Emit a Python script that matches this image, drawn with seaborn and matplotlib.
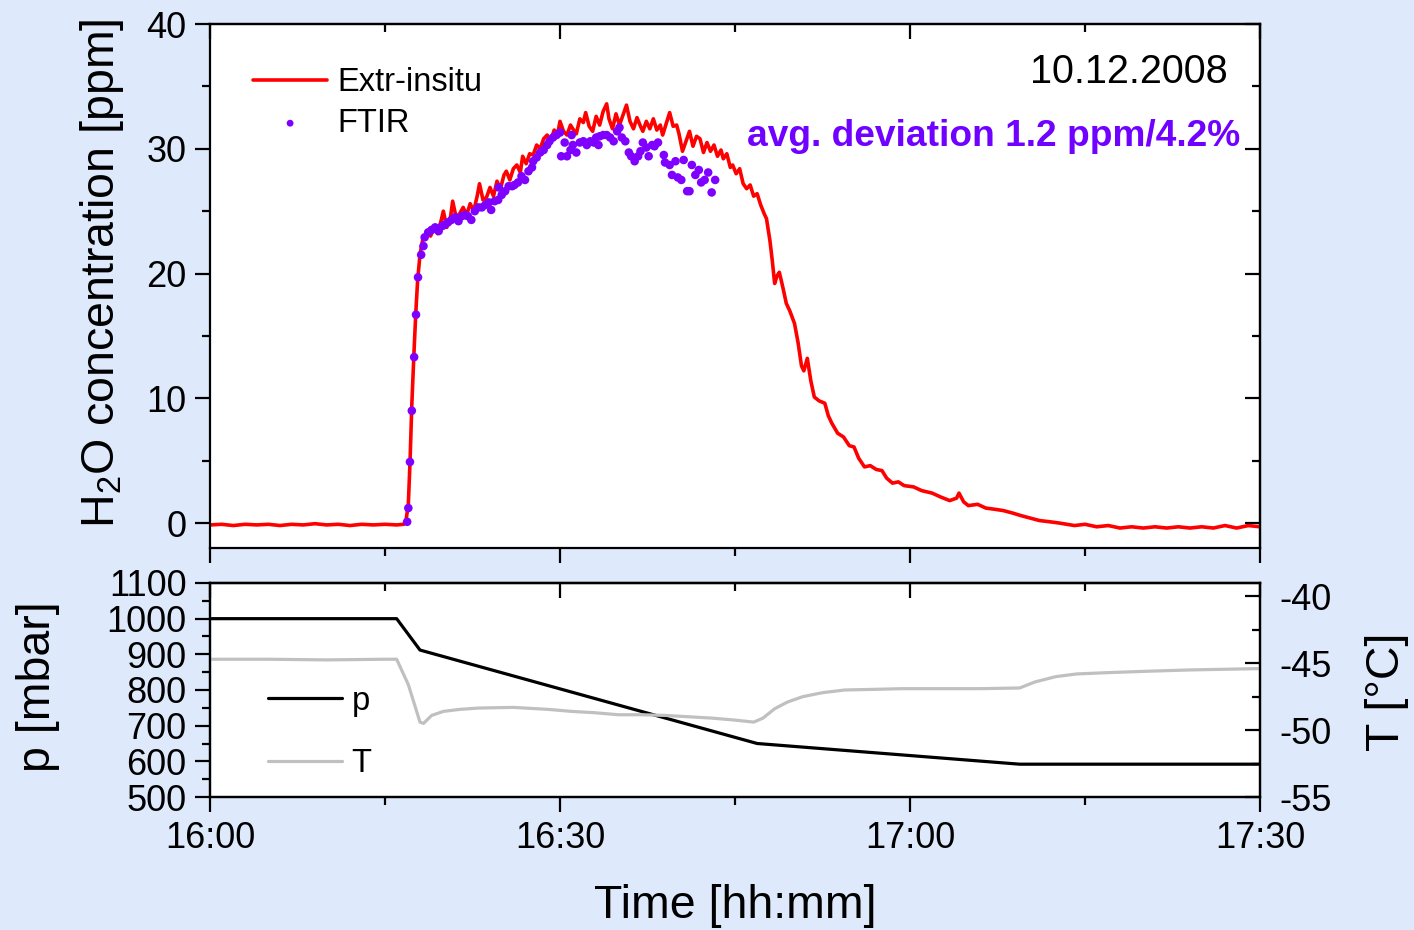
import numpy as np
import pandas as pd
import matplotlib
matplotlib.use("Agg")
import matplotlib.pyplot as plt
from matplotlib.ticker import MultipleLocator, FixedLocator
from matplotlib.lines import Line2D
import seaborn as sns

# ---------------- data (time in minutes after 16:00) ----------------
extr_time = [0, 1, 2, 3, 4, 5, 6, 7, 8, 9, 10, 11, 12, 13, 14, 15, 16, 16.6,
             16.8, 17.0, 17.15, 17.3, 17.5, 17.65, 17.8, 18.0, 18.25,
             18.6, 18.9, 19.2, 19.5, 19.8, 20.0, 20.3, 20.6, 20.8, 21.1, 21.4, 21.7,
             22.0, 22.3, 22.6, 22.9, 23.1, 23.4, 23.7, 24.0, 24.3, 24.6, 24.9, 25.2,
             25.4, 25.7, 26.0, 26.3, 26.6, 26.8, 27.1, 27.4, 27.7, 28.0, 28.3, 28.6,
             28.9, 29.2, 29.5, 29.8, 30.0, 30.3, 30.6, 30.9, 31.1, 31.4, 31.7, 32.0,
             32.2, 32.5, 32.8, 33.1, 33.4, 33.7, 34.0, 34.2, 34.5, 34.8, 35.1, 35.4,
             35.7, 36.0, 36.3, 36.6, 36.9, 37.1, 37.4, 37.7, 38.0, 38.3, 38.6, 38.8,
             39.1, 39.4, 39.7, 40.0, 40.2, 40.5, 40.8, 41.1, 41.4, 41.7, 42.0, 42.3,
             42.6, 42.9, 43.2, 43.5, 43.8, 44.0, 44.3, 44.6, 44.8, 45.1, 45.4, 45.7,
             46.0, 46.3, 46.6, 46.9, 47.2, 47.5, 47.7,
             48.0, 48.2, 48.4, 48.6, 48.8, 49.1, 49.4, 49.7, 50.1, 50.4, 50.7, 50.9,
             51.2, 51.5, 51.8, 52.2, 52.7, 53.0, 53.3, 53.8, 54.3, 54.8, 55.2, 55.6,
             56.1, 56.6, 57.1, 57.6, 58.0, 58.5, 59.0, 59.5, 60.3, 61.0, 61.9, 62.6,
             63.4, 64.0, 64.2, 64.6, 65.0, 65.8, 66.5, 67.3, 68.0, 68.8, 69.5, 70.3,
             71.1, 72.0, 72.8, 74.1, 75.0, 76.0, 77.0, 78.0, 79.0, 80.0, 81.0, 82.0,
             83.0, 84.0, 85.0, 86.0, 87.0, 88.0, 89.0, 90.0]
extr_vals = [-0.15, -0.1, -0.2, -0.1, -0.15, -0.1, -0.2, -0.1, -0.15, -0.05, -0.15, -0.1,
             -0.2, -0.1, -0.15, -0.1, -0.15, -0.1,
             0.2, 1.5, 5.0, 9.5, 14.0, 17.0, 19.5, 21.5, 22.8,
             23.3, 23.0, 23.6, 23.2, 24.2, 25.0, 23.7, 24.4, 25.8, 24.5, 24.8, 25.3,
             24.7, 25.6, 25.0, 26.2, 27.2, 25.9, 26.1, 26.9, 26.2, 27.4, 26.8, 27.9,
             28.2, 27.5, 28.4, 28.7, 28.1, 29.4, 28.8, 29.6, 29.5, 30.3, 30.0, 30.8,
             31.1, 30.6, 31.5, 31.2, 32.2, 31.4, 31.1, 31.9, 31.6, 31.2, 32.4, 32.1,
             32.9, 31.8, 31.4, 32.6, 31.9, 33.0, 33.6, 32.4, 31.6, 32.8, 31.9, 32.7,
             33.5, 32.2, 31.6, 32.5, 31.8, 31.4, 32.2, 31.6, 32.4, 31.5, 31.9, 31.1,
             32.0, 32.9, 31.8, 31.9, 31.2, 29.8, 30.6, 31.4, 30.2, 31.0, 30.8, 29.7,
             30.5, 29.8, 30.3, 29.4, 29.9, 29.2, 29.6, 28.5, 28.7, 28.0, 28.4, 27.2,
             26.8, 27.1, 26.2, 26.4, 25.5, 24.8, 24.4,
             22.6, 21.0, 19.2, 19.8, 20.1, 18.9, 17.6, 17.0, 16.0, 14.5, 12.6, 12.2,
             13.2, 11.4, 10.1, 9.8, 9.6, 8.6, 8.0, 7.2, 6.9, 6.2, 6.1, 5.2,
             4.5, 4.6, 4.3, 4.2, 3.6, 3.2, 3.3, 3.0, 2.9, 2.6, 2.4, 2.1,
             1.8, 2.0, 2.4, 1.7, 1.4, 1.5, 1.2, 1.1, 1.0, 0.8, 0.6, 0.4,
             0.2, 0.1, 0.0, -0.2, -0.1, -0.3, -0.2, -0.4, -0.3, -0.4, -0.3, -0.4,
             -0.3, -0.4, -0.3, -0.4, -0.2, -0.4, -0.2, -0.3]

ftir_time = [16.9, 17.0, 17.14, 17.3, 17.5, 17.66, 17.83, 18.1, 18.3, 18.4, 18.7, 19.0,
             19.3, 19.6, 19.9, 20.1, 20.4, 20.7, 21.0, 21.3, 21.6, 21.9, 22.1, 22.4,
             22.7, 23.0, 23.3, 23.6, 23.9, 24.1, 24.4, 24.7, 24.75, 25.0, 25.3, 25.6,
             25.9, 26.1, 26.4, 26.7, 27.0, 27.3, 27.6, 27.7, 28.0, 28.3, 28.6, 28.9,
             29.1, 29.4, 29.7, 30.0, 30.1, 30.4, 30.6, 30.9, 31.0, 31.1, 31.4, 31.7,
             32.0, 32.3, 32.6, 32.9, 33.1, 33.3, 33.4, 33.7, 34.0, 34.3, 34.6, 34.9,
             35.1, 35.3, 35.6, 35.9, 36.1, 36.4, 36.7, 36.9, 37.1, 37.4, 37.6, 37.9,
             38.1, 38.4, 38.9, 39.0, 39.4, 39.6, 39.9, 40.1, 40.4, 40.6, 40.9, 41.1,
             41.3, 41.6, 41.9, 42.1, 42.4, 42.7, 43.0, 43.3]
ftir_vals = [0.1, 1.2, 4.9, 9.0, 13.3, 16.7, 19.7, 21.5, 22.2, 22.9, 23.3, 23.5,
             23.7, 23.4, 23.8, 23.9, 24.1, 24.3, 24.5, 24.2, 24.6, 24.7, 24.6, 24.3,
             25.0, 25.3, 25.3, 25.5, 25.7, 25.1, 25.8, 25.9, 26.9, 26.3, 26.6, 27.0,
             27.0, 27.1, 27.3, 27.8, 27.5, 28.2, 28.5, 29.0, 29.3, 29.7, 29.9, 30.3,
             30.6, 30.9, 31.1, 31.3, 29.4, 30.5, 29.4, 29.9, 31.1, 30.3, 29.7, 30.5,
             30.6, 30.3, 30.6, 30.5, 30.9, 30.3, 31.0, 31.1, 31.1, 30.9, 30.6, 31.4,
             31.7, 30.9, 30.6, 29.7, 29.4, 29.0, 29.4, 29.8, 30.5, 30.1, 29.4, 30.3,
             30.2, 30.5, 29.5, 28.9, 28.7, 27.9, 29.0, 27.7, 27.5, 29.1, 26.6, 26.6,
             28.7, 27.9, 28.3, 27.3, 27.5, 28.1, 26.5, 27.5]

p_time = [0, 16.0, 18.0, 46.9, 69.4, 90]
p_vals = [1000, 1000, 912, 650, 592, 592]

T_time = [0, 5, 10, 15, 16.0, 17.0, 18.0, 18.3, 19.0, 20.0, 21.4, 23.0, 26.0, 29.0,
          31.0, 33.0, 35.0, 37.0, 39.0, 41.0, 43.0, 45.0, 46.6, 47.4, 48.4, 49.5,
          50.8, 52.5, 54.4, 57.0, 59.3, 63.0, 66.0, 69.4, 70.7, 72.5, 74.3, 77.0,
          80.3, 84.0, 87.0, 90.0]
T_vals = [-44.7, -44.7, -44.75, -44.7, -44.7, -46.6, -49.4, -49.5, -48.9, -48.6, -48.45,
          -48.35, -48.3, -48.45, -48.6, -48.7, -48.85, -48.85, -48.9, -49.0, -49.1,
          -49.25, -49.4, -49.1, -48.4, -47.9, -47.5, -47.2, -47.0, -46.95, -46.9,
          -46.9, -46.9, -46.85, -46.4, -46.0, -45.8, -45.7, -45.6, -45.5, -45.45, -45.4]

xtick_pos = [0, 30, 60, 90]
xtick_labels = ["16:00", "16:30", "17:00", "17:30"]

# ---------------- style ----------------
sns.set_theme(style="ticks")
plt.rcParams["font.family"] = ["Liberation Sans", "DejaVu Sans"]
plt.rcParams["mathtext.fontset"] = "custom"
plt.rcParams["mathtext.rm"] = "Liberation Sans"
plt.rcParams["mathtext.it"] = "Liberation Sans:italic"
plt.rcParams["mathtext.bf"] = "Liberation Sans:bold"
plt.rcParams["axes.unicode_minus"] = False
plt.rcParams["text.color"] = "black"
plt.rcParams["axes.labelcolor"] = "black"
plt.rcParams["xtick.color"] = "black"
plt.rcParams["ytick.color"] = "black"
plt.rcParams["xtick.labelcolor"] = "black"
plt.rcParams["ytick.labelcolor"] = "black"
plt.rcParams["axes.edgecolor"] = "black"

BG = "#dee9fb"
TICK_FS = 26
LABEL_FS = 33.5
LEG_FS = 23.5
LW_SP = 1.6

fig = plt.figure(figsize=(14.14, 9.30), dpi=100, facecolor=BG)
ax1 = fig.add_axes([0.14851, 0.41075, 0.74257, 0.56344])
ax2 = fig.add_axes([0.14851, 0.14301, 0.74257, 0.23011])

extr_df = pd.DataFrame({"t": extr_time, "v": extr_vals})
ftir_df = pd.DataFrame({"t": ftir_time, "v": ftir_vals})
p_df = pd.DataFrame({"t": p_time, "p": p_vals})
T_df = pd.DataFrame({"t": T_time, "T": T_vals})

# ---------------- top panel ----------------
sns.lineplot(data=extr_df, x="t", y="v", ax=ax1, color="#ff0000", lw=2.6,
             sort=False, estimator=None, label="Extr-insitu")
sns.scatterplot(data=ftir_df, x="t", y="v", ax=ax1, color="#7f00ff", s=38,
                edgecolor="none", label="FTIR", zorder=3)

ax1.set_xlim(0, 90)
ax1.set_ylim(-2, 40)
ax1.set_xlabel("")
ax1.set_ylabel("H$_2$O concentration [ppm]", fontsize=LABEL_FS, va="center")
ax1.yaxis.set_label_coords(-0.103, 0.525)
ax1.xaxis.set_major_locator(FixedLocator(xtick_pos))
ax1.xaxis.set_minor_locator(MultipleLocator(15))
ax1.yaxis.set_major_locator(MultipleLocator(10))
ax1.yaxis.set_minor_locator(MultipleLocator(5))
ax1.tick_params(axis="x", which="both", direction="out", labelbottom=False,
                top=False, width=LW_SP, color="black")
ax1.tick_params(axis="x", which="major", length=11)
ax1.tick_params(axis="x", which="minor", length=6)
ax1.tick_params(axis="y", which="both", direction="out", right=False,
                labelsize=TICK_FS, width=LW_SP, pad=6, color="black")
ax1.tick_params(axis="y", which="major", length=11)
ax1.tick_params(axis="y", which="minor", length=6)
for s in ax1.spines.values():
    s.set_visible(True)
    s.set_linewidth(LW_SP)
    s.set_color("black")

sec_top1 = ax1.secondary_xaxis("top")
sec_top1.xaxis.set_major_locator(FixedLocator(xtick_pos))
sec_top1.xaxis.set_minor_locator(MultipleLocator(15))
sec_top1.tick_params(which="both", direction="in", labeltop=False, width=LW_SP)
sec_top1.tick_params(which="major", length=11)
sec_top1.tick_params(which="minor", length=6)
sec_top1.spines["top"].set_linewidth(LW_SP)
sec_r1 = ax1.secondary_yaxis("right")
sec_r1.yaxis.set_major_locator(MultipleLocator(10))
sec_r1.yaxis.set_minor_locator(MultipleLocator(5))
sec_r1.tick_params(which="both", direction="in", labelright=False, width=LW_SP)
sec_r1.tick_params(which="major", length=11)
sec_r1.tick_params(which="minor", length=6)
sec_r1.spines["right"].set_linewidth(LW_SP)

leg1 = ax1.legend(loc="upper left", bbox_to_anchor=(0.041, 0.918), frameon=False,
                  fontsize=LEG_FS, handlelength=2.27, handletextpad=0.3,
                  borderpad=0, borderaxespad=0, labelspacing=0.3,
                  scatterpoints=1, markerscale=0.8)

ax1.text(0.9695, 0.908, "10.12.2008", transform=ax1.transAxes, ha="right",
         va="center", fontsize=28.5, color="black")
ax1.text(0.981, 0.786, "avg. deviation 1.2 ppm/4.2%", transform=ax1.transAxes,
         ha="right", va="center", fontsize=26.7, fontweight="bold", color="#7000ff")

# ---------------- bottom panel ----------------
sns.lineplot(data=p_df, x="t", y="p", ax=ax2, color="black", lw=2.3,
             sort=False, estimator=None, legend=False)
axT = ax2.twinx()
sns.lineplot(data=T_df, x="t", y="T", ax=axT, color="#c0c0c0", lw=2.3,
             sort=False, estimator=None, legend=False)

ax2.set_xlim(0, 90)
ax2.set_ylim(500, 1100)
axT.set_ylim(-55, -39)
ax2.xaxis.set_major_locator(FixedLocator(xtick_pos))
ax2.set_xticklabels(xtick_labels)
ax2.xaxis.set_minor_locator(MultipleLocator(15))
ax2.yaxis.set_major_locator(MultipleLocator(100))
ax2.yaxis.set_minor_locator(MultipleLocator(50))
axT.yaxis.set_major_locator(MultipleLocator(5))
axT.yaxis.set_minor_locator(MultipleLocator(2.5))

ax2.tick_params(axis="x", which="both", direction="out", top=False,
                labelsize=TICK_FS, width=LW_SP, pad=6, color="black")
ax2.tick_params(axis="x", which="major", length=11)
ax2.tick_params(axis="x", which="minor", length=6)
ax2.tick_params(axis="y", which="both", direction="out", right=False,
                labelsize=TICK_FS, width=LW_SP, pad=6, color="black")
ax2.tick_params(axis="y", which="major", length=11)
ax2.tick_params(axis="y", which="minor", length=6)
axT.tick_params(axis="y", which="both", direction="in", labelsize=TICK_FS,
                width=LW_SP, pad=14, color="black")
axT.tick_params(axis="y", which="major", length=11)
axT.tick_params(axis="y", which="minor", length=6)
for a in (ax2, axT):
    for s in a.spines.values():
        s.set_visible(True)
        s.set_linewidth(LW_SP)
        s.set_color("black")

sec_top2 = ax2.secondary_xaxis("top")
sec_top2.xaxis.set_major_locator(FixedLocator(xtick_pos))
sec_top2.xaxis.set_minor_locator(MultipleLocator(15))
sec_top2.tick_params(which="both", direction="in", labeltop=False, width=LW_SP)
sec_top2.tick_params(which="major", length=11)
sec_top2.tick_params(which="minor", length=6)
sec_top2.spines["top"].set_linewidth(LW_SP)

ax2.set_xlabel("Time [hh:mm]", fontsize=LABEL_FS, va="center")
ax2.xaxis.set_label_coords(0.5, -0.51)
ax2.set_ylabel("p [mbar]", fontsize=LABEL_FS, va="center")
ax2.yaxis.set_label_coords(-0.1638, 0.514)
axT.set_ylabel("T [°C]", fontsize=LABEL_FS, va="center", rotation=90)
axT.yaxis.set_label_coords(1.121, 0.491)

handles = [Line2D([], [], color="black", lw=2.3), Line2D([], [], color="#c0c0c0", lw=2.3)]
axT.legend(handles, ["p", "T"], loc="upper left", bbox_to_anchor=(0.055, 0.52),
           frameon=False, fontsize=LEG_FS, handlelength=2.27, handletextpad=0.3,
           borderpad=0, borderaxespad=0, labelspacing=0.96)

fig.savefig("out.png", dpi=100, facecolor=BG)
